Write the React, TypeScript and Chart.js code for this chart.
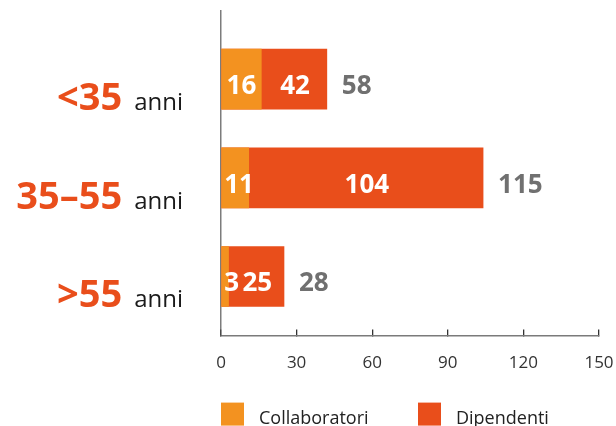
import { useEffect, useRef } from "react";
import { Chart, registerables } from "chart.js";
Chart.register(...registerables);

const categories = ["<35", "35–55", ">55"];
const unitLabel = "anni";
const seriesNames = ["Collaboratori", "Dipendenti"];
const collaboratori = [16, 11, 3];
const dipendenti = [42, 104, 25];
const totali = [58, 115, 28];
const xMin = 0;
const xMax = 150;
const xStep = 30;

const FONT = "'Open Sans', sans-serif";
const C_COLLAB = "#F39220";
const C_DIP = "#E94E1B";
const C_TOTAL = "#707070";

const labelPlugin = {
  id: "customLabels",
  afterDatasetsDraw(chart: any) {
    const ctx = chart.ctx;
    const m0 = chart.getDatasetMeta(0);
    const m1 = chart.getDatasetMeta(1);
    ctx.save();
    ctx.font = `bold 26px ${FONT}`;
    ctx.textBaseline = "alphabetic";
    categories.forEach((_, i) => {
      const c = m0.data[i].getProps(["x", "y", "base"], true);
      const d = m1.data[i].getProps(["x", "y", "base"], true);
      const base = Math.min(c.base, c.x);
      const yb = c.y + 15;
      ctx.fillStyle = "#ffffff";
      ctx.textAlign = "center";
      const t0 = String(collaboratori[i]);
      const w0 = ctx.measureText(t0).width;
      let cx0 = (c.base + c.x) / 2;
      if (cx0 - w0 / 2 < base + 2.5) cx0 = base + 2.5 + w0 / 2;
      ctx.fillText(t0, cx0, yb);
      const t1 = String(dipendenti[i]);
      ctx.fillText(t1, (c.x + d.x) / 2 + 1, yb);
      ctx.fillStyle = C_TOTAL;
      ctx.textAlign = "left";
      ctx.fillText(String(totali[i]), d.x + 15, yb);
    });
    ctx.restore();
  },
  afterDraw(chart: any) {
    const ctx = chart.ctx;
    const yScale = chart.scales.y;
    const left = chart.chartArea.left;
    const bottom = chart.chartArea.bottom;
    ctx.save();
    ctx.textBaseline = "alphabetic";
    categories.forEach((cat, i) => {
      const yb = yScale.getPixelForValue(i) + 31;
      const annRight = left - 38;
      ctx.font = `24px ${FONT}`;
      ctx.fillStyle = "#1a1a1a";
      ctx.textAlign = "right";
      ctx.fillText(unitLabel, annRight, yb);
      const aw = ctx.measureText(unitLabel).width;
      ctx.font = `bold 38px ${FONT}`;
      ctx.fillStyle = C_DIP;
      ctx.fillText(cat, annRight - aw - 12, yb);
    });
    // legend
    const colors = [C_COLLAB, C_DIP];
    const offsets = [0, 197];
    ctx.font = `18px ${FONT}`;
    ctx.textAlign = "left";
    seriesNames.forEach((name, i) => {
      const x = left + offsets[i];
      const y = bottom + 67;
      ctx.fillStyle = colors[i];
      ctx.fillRect(x, y, 23, 23);
      ctx.fillStyle = "#222222";
      ctx.fillText(name, x + 38, y + 21);
    });
    ctx.restore();
  },
};

export default function App() {
  const ref = useRef<HTMLCanvasElement | null>(null);
  useEffect(() => {
    if (!ref.current) return;
    const chart = new Chart(ref.current, {
      type: "bar",
      data: {
        datasets: [
          {
            label: seriesNames[0],
            data: collaboratori.map((v, i) => ({ x: v, y: i })),
            backgroundColor: C_COLLAB,
            barThickness: 60,
          },
          {
            label: seriesNames[1],
            data: dipendenti.map((v, i) => ({ x: v, y: i })),
            backgroundColor: C_DIP,
            barThickness: 60,
          },
        ],
      },
      options: {
        indexAxis: "y",
        responsive: false,
        animation: false,
        devicePixelRatio: 1,
        layout: { padding: { left: 221, top: 11, right: 17, bottom: 30 } },
        plugins: { legend: { display: false }, tooltip: { enabled: false } },
        scales: {
          x: {
            type: "linear",
            position: "bottom",
            min: xMin,
            max: xMax,
            stacked: false,
            afterFit: (s: any) => {
              s.paddingLeft = 0;
              s.paddingRight = 0;
            },
            ticks: { stepSize: xStep, color: "#333333", padding: 23, font: { family: FONT, size: 17 } },
            grid: { display: true, drawOnChartArea: false, drawTicks: true, tickLength: -6, color: "#333333", lineWidth: 1.3 },
            border: { display: true, color: "#7a7a7a", width: 1.5 },
          },
          y: {
            type: "linear",
            reverse: true,
            offset: false,
            min: -0.6904,
            max: 2.599,
            stacked: true,
            z: 1,
            ticks: { display: false },
            grid: { display: false, drawTicks: false, offset: false },
            border: { display: true, color: "rgba(80,80,80,0.75)", width: 1.5 },
          },
        },
      },
      plugins: [labelPlugin],
    } as any);
    return () => chart.destroy();
  }, []);
  return (
    <div style={{ position: "fixed", left: 0, top: 0, width: 616, height: 426, background: "#fff" }}>
      <canvas ref={ref} width={616} height={426} style={{ display: "block" }} />
    </div>
  );
}
